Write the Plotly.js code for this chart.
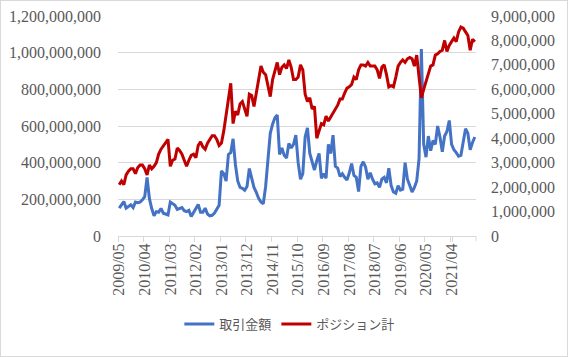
<!DOCTYPE html>
<html>
<head>
<meta charset="utf-8">
<script src="https://cdn.plot.ly/plotly-3.0.1.min.js"></script>
<style>
  html, body { margin: 0; padding: 0; background: #fff; }
  #wrap { position: relative; width: 568px; height: 357px; }
  #chart { width: 568px; height: 357px; }
  #frame { position: absolute; left: 0; top: 0; width: 566px; height: 355px; border: 1px solid #d9d9d9; pointer-events: none; }
</style>
</head>
<body>
<div id="wrap"><div id="chart"></div><div id="frame"></div></div>
<script>
// Series names
const seriesAmount = "取引金額";
const seriesPosition = "ポジション計";

// First month of the monthly category axis and number of months
const startYear = 2009, startMonth = 5, monthCount = 154;

// 取引金額 (left axis), in millions of yen, monthly from 2009/05
const amountMillions = [
  152,168,188,152,160,170,155,185,182,185,
  197,215,320,205,150,110,133,130,150,124,
  120,115,185,178,168,145,150,155,138,133,
  140,106,128,152,172,130,130,152,120,110,
  113,125,148,168,355,340,300,445,455,530,
  390,300,265,260,250,270,368,320,265,238,
  205,185,175,270,430,560,610,645,660,445,
  480,440,425,505,480,500,550,400,310,340,
  540,590,450,410,360,410,450,315,340,315,
  500,450,550,380,370,325,340,320,305,345,
  395,330,320,242,380,405,375,310,345,310,
  285,290,265,310,320,290,370,275,240,233,
  275,250,255,400,310,275,240,265,300,420,
  1020,500,430,545,465,520,500,600,540,460,
  545,570,630,500,470,455,435,440,510,585,
  560,470,510,540
];

// ポジション計 (right axis), in millions, monthly from 2009/05
const positionMillions = [
  2.1,2.25,2.1,2.5,2.65,2.75,2.75,2.55,2.8,2.9,
  2.9,2.75,2.5,2.9,2.75,2.85,3.0,3.35,3.55,3.7,
  3.8,3.95,2.85,3.1,3.15,3.6,3.5,3.35,3.1,2.85,
  3.1,3.3,3.35,3.2,3.7,3.85,3.65,3.55,3.8,3.95,
  4.1,4.1,3.95,3.7,3.8,4.3,4.95,5.5,6.25,4.6,
  5.1,4.95,5.4,5.5,5.2,4.9,5.8,5.75,5.3,5.95,
  6.4,6.95,6.7,6.6,6.1,5.7,6.4,6.7,7.1,6.6,
  6.9,7.0,6.85,7.2,6.9,6.4,6.4,6.5,7.0,6.8,
  5.8,5.5,5.65,5.2,5.3,4.0,4.3,4.6,4.55,4.9,
  4.7,4.85,5.05,5.2,5.35,5.6,5.6,5.85,6.05,6.1,
  6.2,6.5,6.4,6.8,7.0,7.0,6.95,7.1,6.95,6.95,
  6.95,6.8,6.45,6.9,7.0,6.6,6.1,6.15,6.1,6.5,
  6.95,7.1,7.2,7.1,7.25,7.3,7.25,6.95,7.4,6.5,
  5.65,6.0,6.35,6.65,6.95,7.0,7.4,7.45,7.55,7.6,
  8.0,7.55,7.8,7.95,8.1,7.95,8.35,8.55,8.5,8.35,
  8.2,7.6,8.05,7.95
];

// Axis ticks
const leftTicks = [0, 200000000, 400000000, 600000000, 800000000, 1000000000, 1200000000];
const rightTicks = [0, 1000000, 2000000, 3000000, 4000000, 5000000, 6000000, 7000000, 8000000, 9000000];
const labelEvery = 11;

// Build month category labels (YYYY/MM)
const months = [];
for (let k = 0; k < monthCount; k++) {
  const m0 = startMonth - 1 + k;
  const y = startYear + Math.floor(m0 / 12);
  const m = (m0 % 12) + 1;
  months.push(y + "/" + String(m).padStart(2, "0"));
}
const tickMonths = months.filter((_, k) => k % labelEvery === 0);

const fmt = v => v.toLocaleString("en-US");
const tickFont = { family: "Liberation Serif, Times New Roman, serif", size: 16, color: "#595959" };

const traces = [
  {
    x: months, y: amountMillions.map(v => v * 1e6),
    name: seriesAmount, type: "scatter", mode: "lines",
    line: { color: "#4472C4", width: 3 }, yaxis: "y"
  },
  {
    x: months, y: positionMillions.map(v => v * 1e6),
    name: seriesPosition, type: "scatter", mode: "lines",
    line: { color: "#C00000", width: 3 }, yaxis: "y2"
  }
];

const layout = {
  width: 568, height: 357,
  margin: { l: 118, r: 92, t: 16, b: 121 },
  paper_bgcolor: "#ffffff", plot_bgcolor: "#ffffff",
  showlegend: true,
  legend: {
    orientation: "h", x: 0.48, xanchor: "center", y: -0.40, yanchor: "middle",
    font: { family: "Noto Sans CJK JP", size: 13, color: "#595959" },
    itemwidth: 30, traceorder: "normal"
  },
  xaxis: {
    type: "category",
    range: [-0.5, monthCount - 0.5],
    tickmode: "array", tickvals: tickMonths, ticktext: tickMonths,
    tickson: "boundaries",
    ticks: "outside", ticklen: 5, tickcolor: "#d9d9d9",
    tickangle: -90, tickfont: tickFont,
    showline: true, linecolor: "#d9d9d9", linewidth: 1,
    showgrid: false, zeroline: false, fixedrange: true
  },
  yaxis: {
    range: [0, 1200000000],
    tickmode: "array", tickvals: leftTicks, ticktext: leftTicks.map(fmt),
    tickfont: tickFont, ticks: "", ticklabelstandoff: 16,
    showgrid: true, gridcolor: "#d9d9d9", gridwidth: 1,
    zeroline: false, showline: false
  },
  yaxis2: {
    range: [0, 9000000], overlaying: "y", side: "right",
    tickmode: "array", tickvals: rightTicks, ticktext: rightTicks.map(fmt),
    tickfont: tickFont, ticks: "", ticklabelstandoff: 14,
    showgrid: false, zeroline: false, showline: false
  },
  shapes: [
    {
      type: "line", xref: "paper", yref: "paper",
      x0: 1, x1: 1, ysizemode: "pixel", yanchor: 0, y0: 0, y1: -5,
      line: { color: "#d9d9d9", width: 1 }
    }
  ]
};

Plotly.newPlot("chart", traces, layout, { displayModeBar: false, staticPlot: true });
</script>
</body>
</html>
